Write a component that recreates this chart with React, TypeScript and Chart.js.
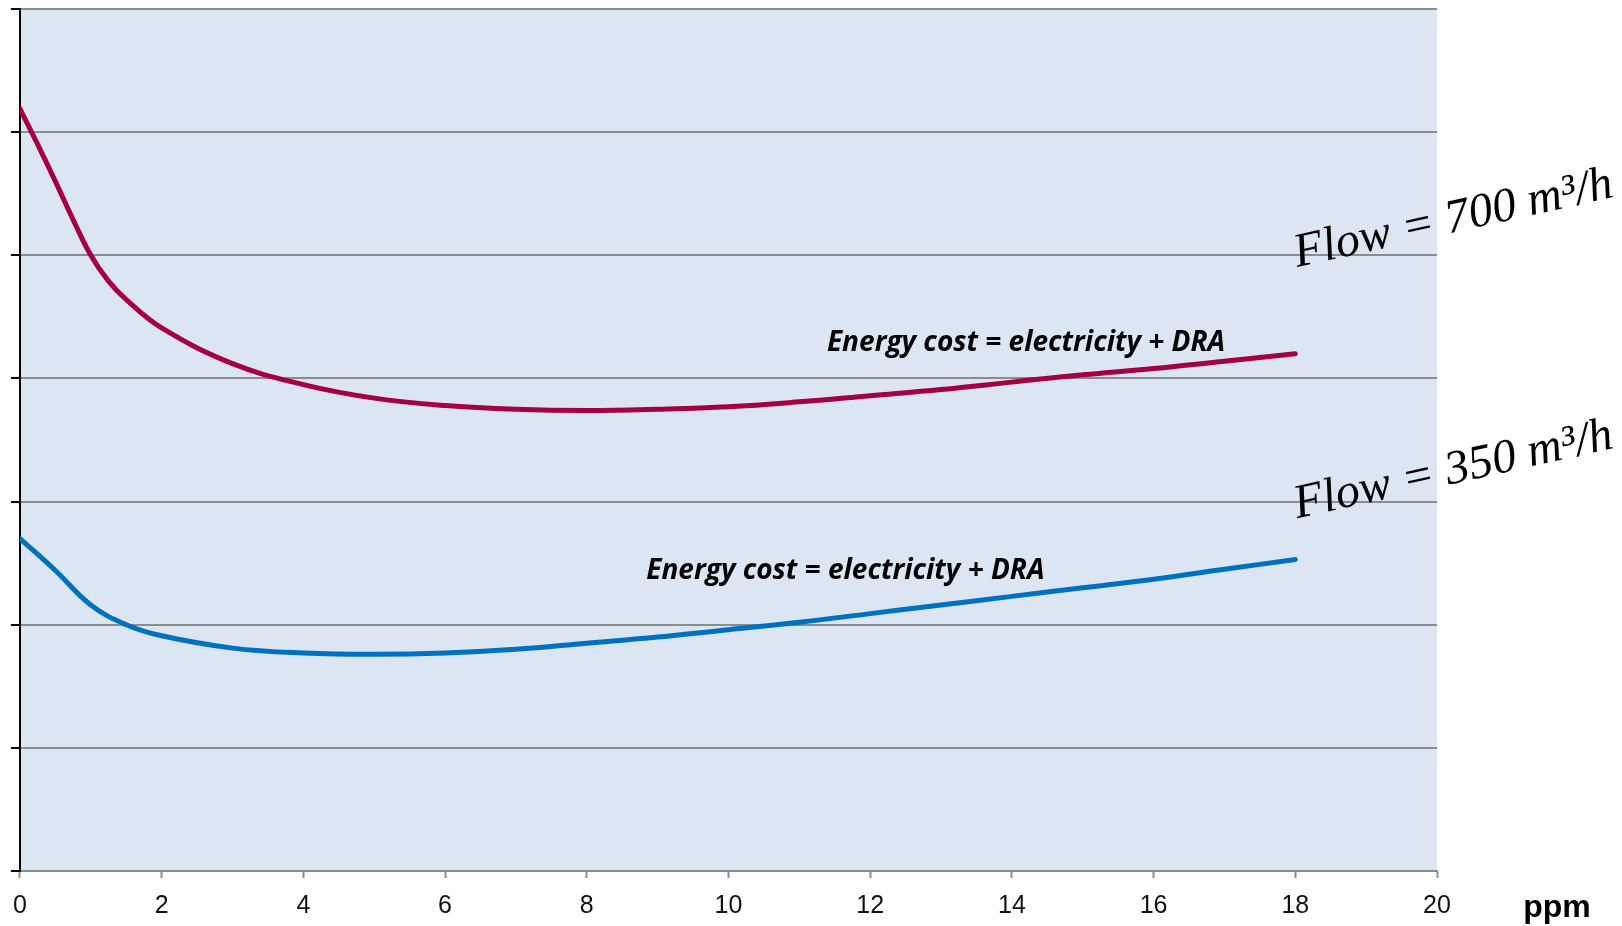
import React, { useEffect, useRef } from "react";
import { Chart, registerables } from "chart.js";

Chart.register(...registerables);

// x positions (ppm) and series values
const ppm700 = [0, 0.25, 0.5, 0.75, 1, 1.25, 1.5, 2, 3, 4, 5, 6, 7, 8, 9, 10, 11, 12, 13, 14, 15, 16, 17, 18];
const cost700 = [6.19, 5.9, 5.6, 5.29, 5.0, 4.79, 4.64, 4.41, 4.12, 3.95, 3.84, 3.78, 3.75, 3.74, 3.75, 3.77, 3.81, 3.86, 3.91, 3.97, 4.03, 4.08, 4.14, 4.2];

const ppm350 = [0, 0.5, 1, 1.5, 2, 3, 4, 5, 6, 7, 8, 9, 10, 11, 12, 13, 14, 15, 16, 17, 18];
const cost350 = [2.7, 2.44, 2.16, 2.0, 1.91, 1.81, 1.77, 1.76, 1.77, 1.8, 1.85, 1.9, 1.96, 2.02, 2.09, 2.16, 2.23, 2.3, 2.37, 2.45, 2.53];

const xTickValues = [0, 2, 4, 6, 8, 10, 12, 14, 16, 18, 20];
const xAxisTitle = "ppm";
const seriesLabels = ["Energy cost = electricity + DRA", "Energy cost = electricity + DRA"];
const flowLabels = ["Flow = 700 m³/h", "Flow = 350 m³/h"];

// annotation anchor points in data coordinates
const annotations = [
  { text: seriesLabels[0], x: 14.2, y: 4.29, kind: "series" },
  { text: seriesLabels[1], x: 11.65, y: 2.44, kind: "series" },
  { text: flowLabels[0], x: 20.23, y: 5.29, kind: "flow" },
  { text: flowLabels[1], x: 20.23, y: 3.25, kind: "flow" },
];

const bgPlugin = {
  id: "plotBg",
  beforeDraw(chart: any) {
    const { ctx, chartArea } = chart;
    ctx.save();
    ctx.fillStyle = "#dce6f2";
    ctx.fillRect(chartArea.left, chartArea.top, chartArea.right - chartArea.left, chartArea.bottom - chartArea.top);
    ctx.restore();
  },
};

const textPlugin = {
  id: "texts",
  afterDraw(chart: any) {
    const { ctx, chartArea, scales } = chart;
    ctx.save();
    ctx.fillStyle = "#000";
    ctx.textAlign = "center";
    ctx.textBaseline = "middle";
    for (const a of annotations) {
      const px = scales.x.getPixelForValue(a.x);
      const py = scales.y.getPixelForValue(a.y);
      if (a.kind === "series") {
        ctx.font = "italic bold 28px 'Open Sans'";
        ctx.fillText(a.text, px, py);
      } else {
        ctx.save();
        ctx.translate(px, py);
        ctx.rotate((-12.5 * Math.PI) / 180);
        ctx.font = "italic 48px 'Liberation Serif'";
        ctx.fillText(a.text, 0, 0);
        ctx.restore();
      }
    }
    ctx.font = "bold 32px 'Liberation Sans'";
    ctx.fillText(xAxisTitle, chartArea.right + 120, chartArea.bottom + 37);
    ctx.restore();
  },
};

export default function App() {
  const ref = useRef<HTMLCanvasElement | null>(null);
  useEffect(() => {
    if (!ref.current) return;
    const chart = new Chart(ref.current, {
      type: "line",
      data: {
        datasets: [
          {
            label: "700",
            data: ppm700.map((x, i) => ({ x, y: cost700[i] })),
            borderColor: "#a50040",
            borderWidth: 5,
            pointRadius: 0,
            tension: 0.4,
            borderCapStyle: "round",
            borderJoinStyle: "round",
          },
          {
            label: "350",
            data: ppm350.map((x, i) => ({ x, y: cost350[i] })),
            borderColor: "#0070c0",
            borderWidth: 5,
            pointRadius: 0,
            tension: 0.4,
            borderCapStyle: "round",
            borderJoinStyle: "round",
          },
        ],
      },
      options: {
        animation: false,
        responsive: false,
        devicePixelRatio: 1,
        layout: { padding: { top: 9, right: 185, left: 0, bottom: 0 } },
        plugins: { legend: { display: false }, tooltip: { enabled: false } },
        scales: {
          x: {
            type: "linear",
            min: 0,
            max: 20,
            afterBuildTicks: (s: any) => {
              s.ticks = xTickValues.map((v) => ({ value: v }));
            },
            afterFit: (s: any) => {
              s.height = 55;
            },
            ticks: {
              font: { family: "'Liberation Sans'", size: 25 },
              color: "#111",
              padding: 13,
              maxRotation: 0,
            },
            grid: {
              display: true,
              drawOnChartArea: false,
              drawTicks: true,
              tickLength: 7,
              tickColor: "#8c8c8c",
              tickWidth: 2,
            },
            border: { color: "#8c8c8c", width: 2 },
          },
          y: {
            min: 0,
            max: 7,
            ticks: { display: false, stepSize: 1 },
            afterFit: (s: any) => {
              s.width = 19;
            },
            grid: {
              color: "#8c8c8c",
              lineWidth: 2,
              tickColor: "#000",
              tickLength: 9,
              tickWidth: 2,
            },
            border: { color: "#000", width: 2 },
          },
        },
      },
      plugins: [bgPlugin, textPlugin],
    } as any);
    return () => chart.destroy();
  }, []);
  return (
    <div style={{ position: "absolute", left: 0, top: 0, width: 1622, height: 926 }}>
      <canvas ref={ref} width={1622} height={926} style={{ display: "block" }} />
    </div>
  );
}
